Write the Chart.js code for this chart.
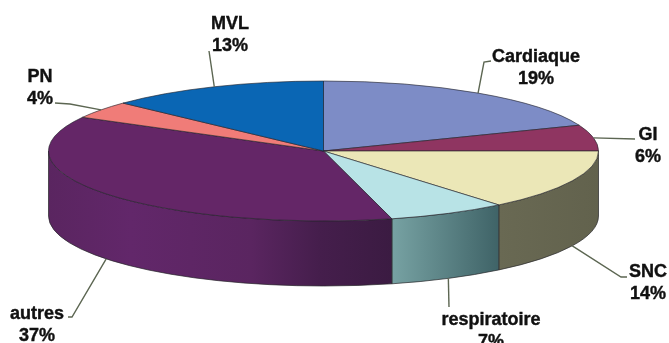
<!DOCTYPE html>
<html>
<head>
<meta charset="utf-8">
<style>
    html, body { margin: 0; padding: 0; background: #fff; overflow: hidden; }
    canvas { display: block; }
</style>
<script src="https://cdn.jsdelivr.net/npm/chart.js@4/dist/chart.umd.min.js"></script>
</head>
<body>
<canvas id="pieChart" width="669" height="343"></canvas>
<script>
const categories = ['Cardiaque', 'GI', 'SNC', 'respiratoire', 'autres', 'PN', 'MVL'];
const shares = [19, 6, 14, 7, 37, 4, 13];

const sliceColors = ['#7d8cc6', '#8f3561', '#ebe7b7', '#b8e3e6', '#642667', '#f07c78', '#0a66b4'];
// Side wall shading for each slice, as [position, colour] stops from left to right
const wallColors = [
    [[0, '#7d8cc6'], [1, '#7d8cc6']],
    [[0, '#5c2340'], [1, '#5c2340']],
    [[0, '#696953'], [1, '#62624d']],
    [[0, '#77a2a3'], [1, '#3f6367']],
    [[0, '#5a2560'], [0.24, '#62276a'], [0.59, '#5a2560'], [0.79, '#451e4c'], [1, '#3b1b42']],
    [[0, '#f07c78'], [1, '#f07c78']],
    [[0, '#0a66b4'], [1, '#0a66b4']]
];

const pieRadius = 275;
const tiltRatio = 70 / 275;
const wallDepth = 65;

// Elbow of each leader line and centre of its two-line label
const leaderLayout = [
    { path: [[484, 62], [491, 61]], text: [536, 57] },
    { path: [[635, 139]], text: [648, 135] },
    { path: [[621, 277], [627, 277]], text: [648, 272] },
    { path: [[449, 307]], text: [491, 320] },
    { path: [[72, 317], [68, 317]], text: [37, 314] },
    { path: [[70, 104], [55, 103]], text: [40, 77] },
    { path: [[209, 51]], text: [230, 24] }
];
const lineGap = 22;

// Draws the cylinder wall under the front half of the pie
const wallPlugin = {
    id: 'wall',
    beforeDatasetsDraw(chart) {
        const ctx = chart.ctx;
        const arcs = chart.getDatasetMeta(0).data;
        arcs.forEach((arc, i) => {
            const start = Math.max(arc.startAngle, 0);
            const end = Math.min(arc.endAngle, Math.PI);
            if (start >= end) return;

            const rx = arc.outerRadius;
            const ry = rx * tiltRatio;
            const leftX = arc.x + rx * Math.cos(end);
            const rightX = arc.x + rx * Math.cos(start);
            const gradient = ctx.createLinearGradient(leftX, 0, rightX, 0);
            wallColors[i].forEach(stop => gradient.addColorStop(stop[0], stop[1]));

            ctx.beginPath();
            ctx.ellipse(arc.x, arc.y, rx, ry, 0, start, end);
            ctx.ellipse(arc.x, arc.y + wallDepth, rx, ry, 0, end, start, true);
            ctx.closePath();
            ctx.fillStyle = gradient;
            ctx.fill();
            ctx.strokeStyle = '#26262a';
            ctx.lineWidth = 0.7;
            ctx.stroke();
        });

        // The slices themselves are round, so squash them into an ellipse
        const first = arcs[0];
        ctx.save();
        ctx.translate(first.x, first.y);
        ctx.scale(1, tiltRatio);
        ctx.translate(-first.x, -first.y);
    },
    afterDatasetsDraw(chart) {
        chart.ctx.restore();
    }
};

// Leader lines and the name / percent labels
const labelPlugin = {
    id: 'sliceLabels',
    afterDraw(chart) {
        const ctx = chart.ctx;
        const arcs = chart.getDatasetMeta(0).data;
        ctx.save();
        arcs.forEach((arc, i) => {
            const mid = (arc.startAngle + arc.endAngle) / 2;
            const rimX = arc.x + arc.outerRadius * Math.cos(mid);
            let rimY = arc.y + arc.outerRadius * tiltRatio * Math.sin(mid);
            if (Math.sin(mid) > 0) rimY += wallDepth;

            const layout = leaderLayout[i];
            ctx.beginPath();
            ctx.moveTo(rimX, rimY);
            layout.path.forEach(p => ctx.lineTo(p[0], p[1]));
            ctx.strokeStyle = '#5c6652';
            ctx.lineWidth = 1.4;
            ctx.stroke();

            ctx.fillStyle = '#111';
            ctx.strokeStyle = '#111';
            ctx.lineWidth = 0.4;
            ctx.font = 'bold 18px "Liberation Sans", Arial, sans-serif';
            ctx.textAlign = 'center';
            ctx.textBaseline = 'middle';
            [categories[i], shares[i] + '%'].forEach((line, n) => {
                ctx.fillText(line, layout.text[0], layout.text[1] + n * lineGap);
                ctx.strokeText(line, layout.text[0], layout.text[1] + n * lineGap);
            });
        });
        ctx.restore();
    }
};

new Chart(document.getElementById('pieChart').getContext('2d'), {
    type: 'pie',
    data: {
        labels: categories,
        datasets: [{
            data: shares,
            backgroundColor: sliceColors,
            borderColor: '#23232b',
            borderWidth: 1,
            radius: pieRadius,
            clip: false
        }]
    },
    options: {
        responsive: false,
        animation: false,
        layout: { padding: { right: 22, bottom: 41 } },
        plugins: {
            legend: { display: false },
            tooltip: { enabled: false }
        }
    },
    plugins: [wallPlugin, labelPlugin]
});
</script>
</body>
</html>
